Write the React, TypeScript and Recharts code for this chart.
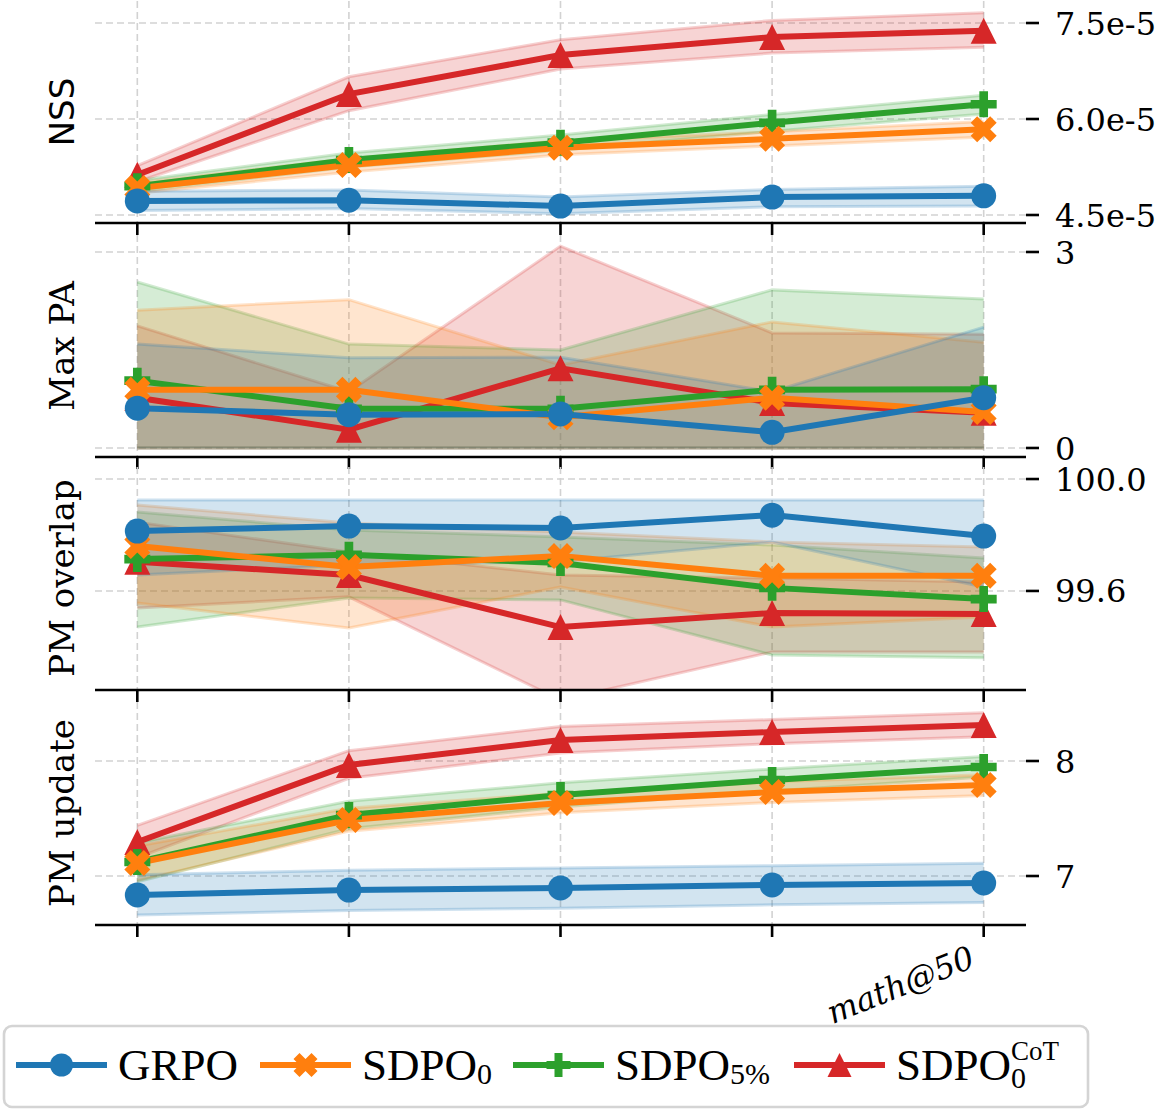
import React from 'react'
import { ComposedChart, Line, Area, XAxis, YAxis, CartesianGrid } from 'recharts'

// x positions: checkpoints, only the last one is labelled
const stepLabels = ['', '', '', '', 'math@50']
const stepTicks = [0, 1, 2, 3, 4]
const methodNames = ['GRPO', 'SDPO', 'SDPO', 'SDPO']
const colors = ['#1f77b4', '#ff7f0e', '#2ca02c', '#d62728']
const markerShapes = ['circle', 'x', 'plus', 'triangle']

// NSS (rows: GRPO, SDPO_0, SDPO_5%, SDPO_0^CoT)
const nssMean = [
  [4.72e-5, 4.73e-5, 4.64e-5, 4.78e-5, 4.8e-5],
  [4.92e-5, 5.28e-5, 5.55e-5, 5.69e-5, 5.84e-5],
  [4.95e-5, 5.36e-5, 5.63e-5, 5.94e-5, 6.23e-5],
  [5.13e-5, 6.39e-5, 7.0e-5, 7.28e-5, 7.38e-5],
]
const nssLow = [
  [4.57e-5, 4.6e-5, 4.52e-5, 4.63e-5, 4.64e-5],
  [4.84e-5, 5.17e-5, 5.44e-5, 5.58e-5, 5.72e-5],
  [4.87e-5, 5.25e-5, 5.51e-5, 5.81e-5, 6.08e-5],
  [5.02e-5, 6.13e-5, 6.78e-5, 7.03e-5, 7.12e-5],
]
const nssHigh = [
  [4.87e-5, 4.89e-5, 4.78e-5, 4.9e-5, 4.95e-5],
  [5.0e-5, 5.38e-5, 5.66e-5, 5.8e-5, 5.96e-5],
  [5.04e-5, 5.47e-5, 5.75e-5, 6.07e-5, 6.37e-5],
  [5.27e-5, 6.66e-5, 7.24e-5, 7.54e-5, 7.66e-5],
]

// Max PA
const maxPaMean = [
  [0.61, 0.51, 0.52, 0.24, 0.77],
  [0.89, 0.89, 0.47, 0.77, 0.55],
  [1.03, 0.6, 0.6, 0.89, 0.9],
  [0.77, 0.28, 1.22, 0.69, 0.54],
]
const maxPaLow = [
  [0, 0, 0, 0, 0],
  [0, 0, 0, 0, 0],
  [0, 0, 0, 0, 0],
  [0, 0, 0, 0, 0],
]
const maxPaHigh = [
  [1.59, 1.38, 1.39, 0.86, 1.85],
  [2.11, 2.27, 1.27, 1.93, 1.62],
  [2.54, 1.59, 1.5, 2.42, 2.28],
  [1.87, 0.86, 3.09, 1.76, 1.74],
]

// PM overlap
const overlapMean = [
  [99.814, 99.832, 99.825, 99.871, 99.796],
  [99.761, 99.686, 99.725, 99.654, 99.654],
  [99.714, 99.729, 99.7, 99.611, 99.571],
  [99.704, 99.657, 99.471, 99.521, 99.518],
]
const overlapLow = [
  [99.657, 99.693, 99.704, 99.775, 99.614],
  [99.557, 99.468, 99.614, 99.471, 99.507],
  [99.471, 99.575, 99.568, 99.371, 99.361],
  [99.539, 99.579, 99.21, 99.382, 99.382],
]
const overlapHigh = [
  [99.925, 99.925, 99.925, 99.925, 99.925],
  [99.907, 99.843, 99.811, 99.775, 99.757],
  [99.882, 99.818, 99.793, 99.764, 99.718],
  [99.846, 99.739, 99.657, 99.646, 99.632],
]

// PM update
const updateMean = [
  [6.835, 6.878, 6.896, 6.922, 6.939],
  [7.113, 7.487, 7.635, 7.73, 7.791],
  [7.122, 7.53, 7.704, 7.835, 7.948],
  [7.296, 7.965, 8.183, 8.252, 8.313],
]
const updateLow = [
  [6.66, 6.7, 6.72, 6.75, 6.77],
  [6.96, 7.39, 7.55, 7.64, 7.7],
  [6.95, 7.41, 7.6, 7.74, 7.86],
  [7.16, 7.85, 8.07, 8.15, 8.21],
]
const updateHigh = [
  [7.01, 7.05, 7.07, 7.09, 7.11],
  [7.26, 7.59, 7.72, 7.82, 7.88],
  [7.29, 7.65, 7.81, 7.93, 8.04],
  [7.44, 8.09, 8.3, 8.36, 8.42],
]

const buildRows = (mean: number[][], low: number[][], high: number[][]) =>
  stepLabels.map((label, i) => {
    const row: Record<string, any> = { step: i, label }
    mean.forEach((series, m) => {
      row[`m${m}`] = series[i]
      row[`b${m}`] = [low[m][i], high[m][i]]
    })
    return row
  })

const CHART_W = 1158
const PLOT_LEFT = 95
const AXIS_W = 132
const PLOT_W = CHART_W - PLOT_LEFT - AXIS_W
const X_DOMAIN: [number, number] = [-0.2, 4.2]
const MARKER_SIZE = 26
const LINE_WIDTH = 6

const markerPath = (shape: string, cx: number, cy: number, s: number) => {
  const h = s / 2
  if (shape === 'triangle') return `M${cx},${cy - h}L${cx + h},${cy + h}L${cx - h},${cy + h}Z`
  if (shape === 'plus') {
    const t = s / 6
    const pts = [
      [-t, -h], [t, -h], [t, -t], [h, -t], [h, t], [t, t],
      [t, h], [-t, h], [-t, t], [-h, t], [-h, -t], [-t, -t],
    ]
    return 'M' + pts.map(([x, y]) => `${cx + x},${cy + y}`).join('L') + 'Z'
  }
  const q = h / 2
  const pts = [
    [-q, -h], [0, -q], [q, -h], [h, -q], [q, 0], [h, q],
    [q, h], [0, q], [-q, h], [-h, q], [-q, 0], [-h, -q],
  ]
  return 'M' + pts.map(([x, y]) => `${cx + x},${cy + y}`).join('L') + 'Z'
}

const Marker = ({ shape, cx, cy, color, size = MARKER_SIZE }: any) =>
  shape === 'circle' ? (
    <circle cx={cx} cy={cy} r={size / 2 - 0.5} fill={color} />
  ) : (
    <path d={markerPath(shape, cx, cy, size)} fill={color} />
  )

const StepTick = ({ x, y, payload, show }: any) => {
  const text = stepLabels[payload?.value] ?? ''
  if (!show || !text) return <g />
  const ax = x - 7
  const ay = y + 29
  return (
    <text
      x={ax}
      y={ay}
      transform={`rotate(-22 ${ax} ${ay})`}
      textAnchor="end"
      fontSize={32}
      fontStyle="italic"
      fontFamily="DejaVu Serif"
      fill="#000"
    >
      {text}
    </text>
  )
}

const ValueTick = ({ x, y, payload, format }: any) => (
  <text x={x} y={y} dy="0.36em" textAnchor="start" fontSize={32} fontFamily="DejaVu Serif" fill="#000">
    {format(payload.value)}
  </text>
)

interface PanelProps {
  top: number
  plotHeight: number
  rows: any[]
  domain: [number, number]
  ticks: number[]
  format: (v: number) => string
  bottom?: boolean
}

const Panel = ({ top, plotHeight, rows, domain, ticks, format, bottom }: PanelProps) => {
  const mTop = 10
  const axisH = bottom ? 130 : 14
  const order = [3, 2, 1, 0]
  // grid lines only at the tick values (same linear mapping as the axes)
  const gridY = ticks.map((t) => mTop + ((domain[1] - t) / (domain[1] - domain[0])) * plotHeight)
  const gridX = stepTicks.map((t) => PLOT_LEFT + ((t - X_DOMAIN[0]) / (X_DOMAIN[1] - X_DOMAIN[0])) * PLOT_W)
  return (
    <div style={{ position: 'absolute', left: 0, top: top - mTop }}>
      <ComposedChart
        width={CHART_W}
        height={mTop + plotHeight + axisH}
        data={rows}
        margin={{ top: mTop, right: 0, bottom: 0, left: PLOT_LEFT }}
      >
        <CartesianGrid
          yAxisId="r"
          stroke="#d2d2d2"
          strokeDasharray="7 4"
          strokeWidth={1.6}
          horizontalPoints={gridY}
          verticalPoints={gridX}
        />
        <XAxis
          type="number"
          dataKey="step"
          domain={X_DOMAIN}
          ticks={stepTicks}
          interval={0}
          allowDataOverflow
          height={axisH}
          axisLine={{ stroke: '#000', strokeWidth: 2.6 }}
          tickLine={{ stroke: '#000', strokeWidth: 2.6 }}
          tickSize={12}
          tickMargin={0}
          tick={<StepTick show={bottom} />}
        />
        <YAxis
          yAxisId="l"
          orientation="left"
          width={0}
          domain={domain}
          allowDataOverflow
          tick={false}
          tickLine={false}
          axisLine={{ stroke: '#000', strokeWidth: 2.6 }}
        />
        <YAxis
          yAxisId="r"
          orientation="right"
          width={AXIS_W}
          domain={domain}
          ticks={ticks}
          interval={0}
          allowDataOverflow
          axisLine={false}
          tickLine={{ stroke: '#000', strokeWidth: 2.6 }}
          tickSize={13}
          tickMargin={16}
          tick={<ValueTick format={format} />}
        />
        {order.map((m) => (
          <Area
            key={`band-${m}`}
            yAxisId="r"
            type="linear"
            dataKey={`b${m}`}
            fill={colors[m]}
            fillOpacity={0.2}
            stroke={colors[m]}
            strokeOpacity={0.22}
            strokeWidth={3}
            dot={false}
            activeDot={false}
            isAnimationActive={false}
          />
        ))}
        {order.map((m) => (
          <Line
            key={`line-${m}`}
            yAxisId="r"
            type="linear"
            dataKey={`m${m}`}
            stroke={colors[m]}
            strokeWidth={LINE_WIDTH}
            dot={(p: any) => (
              <Marker key={`dot-${m}-${p.index}`} shape={markerShapes[m]} cx={p.cx} cy={p.cy} color={colors[m]} />
            )}
            activeDot={false}
            isAnimationActive={false}
          />
        ))}
      </ComposedChart>
    </div>
  )
}

// y-axis titles, one per panel (center y of each panel)
const panelTitles = [
  { text: 'NSS', cy: 112, family: 'DejaVu Sans' },
  { text: 'Max PA', cy: 346, family: 'DejaVu Serif' },
  { text: 'PM overlap', cy: 578, family: 'DejaVu Serif' },
  { text: 'PM update', cy: 813, family: 'DejaVu Serif' },
]

const Titles = () => (
  <svg width={95} height={1000} style={{ position: 'absolute', left: 0, top: 0 }}>
    {panelTitles.map((t) => (
      <text
        key={t.text}
        x={62}
        y={t.cy}
        transform={`rotate(-90 62 ${t.cy})`}
        textAnchor="middle"
        dominantBaseline="central"
        fontSize={34}
        fontFamily={t.family}
        fill="#000"
      >
        {t.text}
      </text>
    ))}
  </svg>
)

const legendItems = [
  { left: 16, sub: '', sup: '' },
  { left: 260, sub: '0', sup: '' },
  { left: 513, sub: '5%', sup: '' },
  { left: 794, sub: '0', sup: 'CoT' },
]

const LegendBox = () => (
  <svg width={1158} height={90} style={{ position: 'absolute', left: 0, top: 1022 }}>
    <rect x={4} y={4} width={1084} height={81} rx={8} ry={8} fill="#fff" stroke="#d4d4d4" strokeWidth={2.6} />
    {legendItems.map((it, m) => (
      <g key={m}>
        <line x1={it.left} x2={it.left + 91} y1={43} y2={43} stroke={colors[m]} strokeWidth={LINE_WIDTH} />
        <Marker shape={markerShapes[m]} cx={it.left + 45.5} cy={43} color={colors[m]} size={24} />
        <text x={it.left + 102} y={58} fontSize={45} fontFamily="Liberation Serif" fill="#000">
          {methodNames[m]}
          {it.sub && (
            <tspan fontSize={30} dy={it.sup ? 8 : 4}>
              {it.sub}
            </tspan>
          )}
          {it.sup && (
            <tspan fontSize={27} dx={-15} dy={-28}>
              {it.sup}
            </tspan>
          )}
        </text>
      </g>
    ))}
  </svg>
)

export default function App() {
  return (
    <div
      style={{
        position: 'absolute',
        left: 0,
        top: 0,
        width: 1158,
        height: 1112,
        background: '#fff',
        overflow: 'hidden',
      }}
    >
      <Panel
        top={1}
        plotHeight={222}
        rows={buildRows(nssMean, nssLow, nssHigh)}
        domain={[4.375e-5, 7.844e-5]}
        ticks={[4.5e-5, 6.0e-5, 7.5e-5]}
        format={(v) => v.toExponential(1)}
      />
      <Panel
        top={235}
        plotHeight={222}
        rows={buildRows(maxPaMean, maxPaLow, maxPaHigh)}
        domain={[-0.138, 3.26]}
        ticks={[0, 3]}
        format={(v) => String(v)}
      />
      <Panel
        top={467}
        plotHeight={223}
        rows={buildRows(overlapMean, overlapLow, overlapHigh)}
        domain={[99.246, 100.043]}
        ticks={[99.6, 100.0]}
        format={(v) => v.toFixed(1)}
      />
      <Panel
        top={702}
        plotHeight={223}
        rows={buildRows(updateMean, updateLow, updateHigh)}
        domain={[6.574, 8.513]}
        ticks={[7, 8]}
        format={(v) => String(v)}
        bottom
      />
      <Titles />
      <LegendBox />
    </div>
  )
}
